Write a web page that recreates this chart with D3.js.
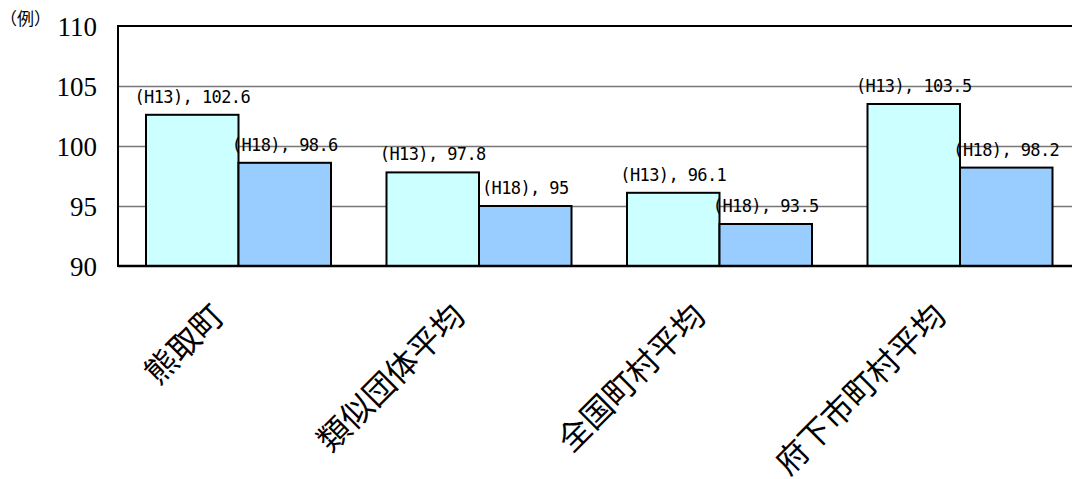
<!DOCTYPE html>
<html>
<head>
<meta charset="utf-8">
<script src="https://cdn.jsdelivr.net/npm/d3@7"></script>
<style>
  body { margin: 0; background: #fff; }
  svg { display: block; }
  .ytick text { font-family: "Liberation Serif", "Times New Roman", "DejaVu Serif", serif; }
</style>
</head>
<body>
<svg id="chart" width="1072" height="479"></svg>
<script>
// data
const categories = ["熊取町", "類似団体平均", "全国町村平均", "府下市町村平均"];
const seriesNames = ["(H13)", "(H18)"];
const h13Values = [102.6, 97.8, 96.1, 103.5];
const h18Values = [98.6, 95, 93.5, 98.2];
const yTicks = [90, 95, 100, 105, 110];
const unitLabel = "（例）";

const colors = { "(H13)": "#CCFFFF", "(H18)": "#99CCFF" };

const svg = d3.select("#chart");

// plot area (right side runs past the window like the original)
const plotLeft = 118, plotTop = 26, plotBottom = 266, plotRight = 1080;

const y = d3.scaleLinear().domain([90, 110]).range([plotBottom, plotTop]);
const x = d3.scaleBand().domain(categories).range([plotLeft, plotRight]).padding(0);
const xSub = d3.scaleBand().domain(seriesNames)
  .range([28, x.bandwidth() - 27.5]).padding(0);

// gridlines
const grid = svg.append("g")
  .attr("transform", `translate(${plotLeft},0)`)
  .call(d3.axisLeft(y).tickValues(yTicks.slice(1, -1)).tickSize(-(plotRight - plotLeft)).tickFormat(""));
grid.select(".domain").remove();
grid.selectAll("line").attr("stroke", "#777").attr("stroke-width", 1.6);

// y tick labels
const yAxis = svg.append("g")
  .attr("class", "ytick")
  .attr("transform", `translate(${plotLeft},0)`)
  .call(d3.axisLeft(y).tickValues(yTicks).tickSize(0).tickPadding(21));
yAxis.attr("font-family", null);
yAxis.select(".domain").remove();
yAxis.selectAll("text")
  .attr("font-size", 27)
  .attr("fill", "#000")
  .attr("dy", "0.36em");

// bars
const rows = categories.map((c, i) => ({
  cat: c,
  vals: [
    { s: seriesNames[0], v: h13Values[i] },
    { s: seriesNames[1], v: h18Values[i] }
  ]
}));

const groups = svg.append("g").selectAll("g")
  .data(rows)
  .join("g")
  .attr("transform", d => `translate(${x(d.cat)},0)`);

groups.selectAll("rect")
  .data(d => d.vals)
  .join("rect")
  .attr("x", d => xSub(d.s))
  .attr("y", d => y(d.v))
  .attr("width", xSub.bandwidth())
  .attr("height", d => y(90) - y(d.v))
  .attr("fill", d => colors[d.s])
  .attr("stroke", "#000")
  .attr("stroke-width", 2);

// value labels
groups.selectAll("text")
  .data(d => d.vals)
  .join("text")
  .attr("x", d => xSub(d.s) + xSub.bandwidth() / 2)
  .attr("y", d => y(d.v) - 12)
  .attr("text-anchor", "middle")
  .attr("font-family", "'DejaVu Sans Mono', monospace")
  .attr("font-size", 17)
  .attr("letter-spacing", -0.6)
  .attr("fill", "#000")
  .text(d => `${d.s}, ${d.v}`);

// frame: top, left, bottom
svg.append("line").attr("x1", plotLeft).attr("x2", plotRight).attr("y1", plotTop).attr("y2", plotTop)
  .attr("stroke", "#000").attr("stroke-width", 2);
svg.append("line").attr("x1", plotLeft).attr("x2", plotRight).attr("y1", plotBottom).attr("y2", plotBottom)
  .attr("stroke", "#000").attr("stroke-width", 2.5);
svg.append("line").attr("x1", plotLeft).attr("x2", plotLeft).attr("y1", plotTop - 1).attr("y2", plotBottom + 1)
  .attr("stroke", "#000").attr("stroke-width", 2);

// category labels, rotated
svg.append("g").selectAll("text")
  .data(categories)
  .join("text")
  .attr("transform", d => `translate(${x(d) + x.bandwidth() / 2 - 12},318) rotate(-45)`)
  .attr("text-anchor", "end")
  .attr("font-family", "'Noto Sans CJK JP', sans-serif")
  .attr("font-size", 32)
  .attr("fill", "#000")
  .text(d => d);

// unit label
svg.append("text")
  .attr("x", 0)
  .attr("y", 25)
  .attr("font-family", "'Noto Sans CJK JP', sans-serif")
  .attr("font-size", 17)
  .attr("fill", "#000")
  .text(unitLabel);
</script>
</body>
</html>
